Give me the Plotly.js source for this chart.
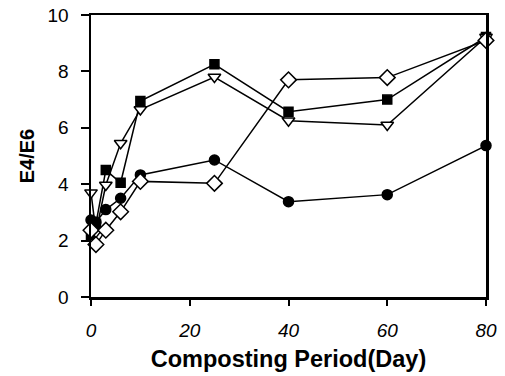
<!DOCTYPE html>
<html><head><meta charset="utf-8">
<script src="https://cdn.plot.ly/plotly-3.0.1.min.js"></script>
<style>html,body{margin:0;padding:0;background:#fff}#c{width:505px;height:376px}</style>
</head><body><div id="c"></div>
<script>
const days = [0, 1, 3, 6, 10, 25, 40, 60, 80];
const seriesSquare = [2.2, 2.6, 4.5, 4.05, 6.95, 8.25, 6.57, 7.0, 9.22];
const seriesTriangle = [3.7, 2.3, 3.97, 5.45, 6.65, 7.8, 6.25, 6.1, 9.22];
const seriesCircle = [2.73, 2.65, 3.1, 3.5, 4.33, 4.86, 3.38, 3.63, 5.37];
const seriesDiamond = [2.37, 1.86, 2.37, 3.02, 4.1, 4.03, 7.7, 7.78, 9.1];
const xTicks = [0, 20, 40, 60, 80];
const yTicks = [0, 2, 4, 6, 8, 10];

const line = {color: '#000', width: 1.5};
function tr(y, symbol, fill, size) {
  return {x: days, y: y, type: 'scatter', mode: 'lines+markers', line: line,
    marker: {symbol: symbol, size: size, color: fill, line: {color: '#000', width: 1.5}}, cliponaxis: false};
}
const data = [
  tr(seriesSquare, 'square', '#000', 9),
  tr(seriesTriangle, 'triangle-down', '#fff', 11),
  tr(seriesCircle, 'circle', '#000', 10),
  tr(seriesDiamond, 'diamond', '#fff', 12)
];
const fam = 'Liberation Sans, Arial, sans-serif';
const layout = {
  width: 505, height: 376, showlegend: false,
  margin: {l: 91, r: 19, t: 15, b: 79},
  paper_bgcolor: '#fff', plot_bgcolor: '#fff',
  font: {family: fam, color: '#000'},
  xaxis: {range: [0, 80], tickvals: xTicks, ticktext: xTicks.map(v => '<i>' + v + '</i>'),
    showgrid: false, zeroline: false, showline: true, linecolor: '#000', linewidth: 2.5, mirror: true,
    ticks: 'outside', ticklen: 6, tickwidth: 2, tickcolor: '#000', ticklabelstandoff: 9,
    tickfont: {size: 19, family: fam, color: '#000'},
    title: {text: '<b>Composting Period(Day)</b>', font: {size: 23.5, family: fam, color: '#000'}, standoff: 11}},
  yaxis: {range: [0, 10], tickvals: yTicks,
    showgrid: false, zeroline: false, showline: true, linecolor: '#000', linewidth: 2.5, mirror: true,
    ticks: 'outside', ticklen: 8, tickwidth: 2, tickcolor: '#000', ticklabelstandoff: 8,
    tickfont: {size: 19, family: fam, color: '#000'},
    title: {text: '<b>E4/E6</b>', font: {size: 20, family: fam, color: '#000'}, standoff: 8}}
};
Plotly.newPlot('c', data, layout, {staticPlot: true});
</script></body></html>
